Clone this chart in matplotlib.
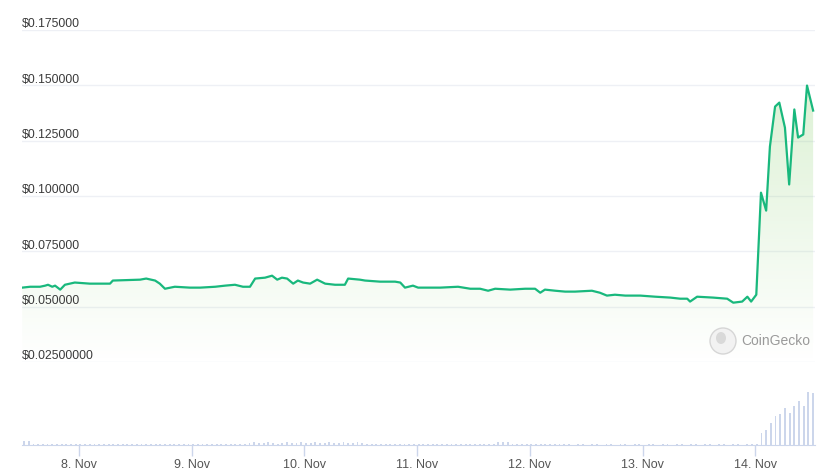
import numpy as np
import matplotlib
matplotlib.use("Agg")
import matplotlib.pyplot as plt
import matplotlib.patches as mpatches
from matplotlib.colors import LinearSegmentedColormap

plt.rcParams['font.family'] = ['Liberation Sans', 'DejaVu Sans']

# prijs: uren sinds 8 Nov 00:00, waarde in USD
uren = [-12.1, -10.4, -8.3, -7.2, -6.6, -5.7, -5.1, -4.0, -3.0, -0.9,
        2.3, 6.6, 7.2, 13.0, 14.3, 16.2, 17.2, 18.3, 20.4, 23.6,
        25.8, 29.0, 31.1, 33.2, 34.9, 36.4, 37.5, 39.6, 41.1, 42.2,
        43.2, 44.3, 45.6, 46.6, 47.7, 49.2, 50.7, 52.4, 54.5, 56.6,
        57.3, 59.8, 60.9, 64.1, 67.3, 68.4, 69.4, 71.1, 72.2, 73.7,
        76.9, 80.7, 83.3, 85.4, 87.1, 88.6, 91.8, 95.0, 97.1, 98.2,
        99.2, 101.4, 103.5, 105.6, 109.2, 110.9, 112.4, 114.1, 116.3, 119.5,
        122.7, 125.9, 128.0, 129.5, 130.1, 131.6, 135.0, 138.0, 139.3, 141.2,
        142.3, 143.1, 144.2, 145.2, 146.3, 147.1, 148.2, 149.1, 150.3, 151.2,
        152.3, 153.1, 154.2, 155.0, 156.3]
prijs = [0.0586, 0.0590, 0.0590, 0.0595, 0.0599, 0.0590, 0.0595, 0.0577, 0.0599, 0.0609,
         0.0604, 0.0604, 0.0618, 0.0622, 0.0627, 0.0618, 0.0604, 0.0581, 0.0590, 0.0586,
         0.0586, 0.0590, 0.0595, 0.0599, 0.0590, 0.0590, 0.0627, 0.0631, 0.0640, 0.0622,
         0.0631, 0.0627, 0.0604, 0.0618, 0.0609, 0.0604, 0.0622, 0.0604, 0.0599, 0.0599,
         0.0627, 0.0622, 0.0618, 0.0613, 0.0613, 0.0609, 0.0586, 0.0595, 0.0586, 0.0586,
         0.0586, 0.0590, 0.0581, 0.0581, 0.0572, 0.0581, 0.0577, 0.0581, 0.0581, 0.0563,
         0.0577, 0.0572, 0.0568, 0.0568, 0.0572, 0.0563, 0.0550, 0.0554, 0.0550, 0.0550,
         0.0545, 0.0541, 0.0536, 0.0536, 0.0523, 0.0545, 0.0541, 0.0536, 0.0518, 0.0523,
         0.0545, 0.0523, 0.0554, 0.1015, 0.0934, 0.1223, 0.1404, 0.1422, 0.1309, 0.1052,
         0.1391, 0.1264, 0.1278, 0.1499, 0.1386]

# volume per uur (duizend USD), uur -12 t/m 156
volume = [
    # 7 Nov 12:00 - 23:00
    4.0, 3.8, 1.2, 1.1, 1.2, 1.3, 1.2, 1.1, 1.2, 1.2, 1.3, 1.2,
    # 8 Nov
    1.2, 1.3, 1.2, 1.1, 1.2, 1.2, 1.3, 1.2, 1.2, 1.1, 1.2, 1.3,
    1.2, 1.2, 1.1, 1.2, 1.3, 1.2, 1.2, 1.2, 1.1, 1.2, 1.3, 1.2,
    # 9 Nov
    1.2, 1.3, 1.2, 1.1, 1.2, 1.2, 1.3, 1.2, 1.2, 1.1, 1.2, 1.3,
    2.4, 2.6, 2.5, 2.3, 2.6, 2.5, 1.2, 2.4, 2.6, 2.5, 2.4, 2.6,
    # 10 Nov
    2.5, 2.4, 2.6, 2.5, 2.3, 2.6, 2.5, 2.4, 2.6, 2.5, 2.4, 2.6,
    2.5, 1.3, 1.2, 1.1, 1.2, 1.3, 1.2, 1.2, 1.1, 1.2, 1.3, 1.2,
    # 11 Nov
    1.2, 1.2, 1.1, 1.2, 1.3, 1.2, 1.2, 1.1, 1.2, 1.3, 1.2, 1.2,
    1.2, 1.1, 1.2, 1.3, 1.2, 3.0, 3.2, 3.0, 1.2, 1.3, 1.2, 1.1,
    # 12 Nov
    1.2, 1.2, 1.3, 1.2, 1.1, 1.2, 1.2, 0.6, 0.6, 0.5, 0.6, 0.6,
    0.5, 0.6, 0.6, 0.5, 0.6, 0.6, 0.5, 0.6, 0.6, 0.5, 0.6, 0.6,
    # 13 Nov
    0.5, 0.6, 0.6, 0.5, 0.6, 0.6, 0.5, 0.6, 0.6, 0.5, 0.6, 0.6,
    0.5, 0.6, 0.6, 0.5, 0.6, 0.6, 0.5, 0.6, 0.6, 0.5, 0.6, 0.6,
    # 14 Nov
    0.6, 12, 15, 22, 29, 31, 37, 32, 39, 44, 39, 53, 52]
volume_uren = np.arange(-12, -12 + len(volume)) + 0.3

ytick_waarden = [0.025, 0.05, 0.075, 0.1, 0.125, 0.15, 0.175]
ytick_labels = ["$0.02500000", "$0.050000", "$0.075000", "$0.100000",
                "$0.125000", "$0.150000", "$0.175000"]
xtick_waarden = [0, 24, 48, 72, 96, 120, 144]
xtick_labels = ["8. Nov", "9. Nov", "10. Nov", "11. Nov", "12. Nov", "13. Nov", "14. Nov"]

W, H = 824, 475
fig = plt.figure(figsize=(W / 100, H / 100), dpi=100)
xlim = (-12.14, 156.7)
links, rechts = 22 / W, 793 / W

# prijsgrafiek
ax = fig.add_axes([links, 1 - 362 / H, rechts, 332 / H])
ax.set_xlim(*xlim)
ax.set_ylim(0.025, 0.175)
for s in ax.spines.values():
    s.set_visible(False)
ax.set_xticks([])
ax.set_yticks([])
for v, lab in zip(ytick_waarden, ytick_labels):
    ax.axhline(v, color="#eef0f5", lw=1, zorder=0)
    ax.annotate(lab, (0, v), xycoords=("axes fraction", "data"), xytext=(0, 2),
                textcoords="offset points", ha="left", va="baseline",
                fontsize=8.8, color="#3a3a3a")

# gradient onder de lijn
vul = ax.fill_between(uren, prijs, 0.025, color="none", lw=0)
cmap = LinearSegmentedColormap.from_list(
    "g", [(0.55, 0.82, 0.45, 0.0), (0.55, 0.82, 0.45, 0.30)])
grad = np.linspace(0, 1, 256).reshape(-1, 1)
im = ax.imshow(grad, cmap=cmap, aspect="auto", origin="lower",
               extent=[xlim[0], xlim[1], 0.025, 0.15], zorder=1)
pad = vul.get_paths()[0]
im.set_clip_path(pad, transform=ax.transData)
ax.plot(uren, prijs, color="#19b87d", lw=1.6, zorder=3, solid_joinstyle="round")

# volume
axv = fig.add_axes([links, 1 - 445 / H, rechts, 65 / H])
axv.set_xlim(*xlim)
axv.set_ylim(0, max(volume) * 65 / 53)
axv.bar(volume_uren, volume, width=0.4, color="#ccd6eb", lw=0)
for k in ["top", "left", "right"]:
    axv.spines[k].set_visible(False)
axv.spines["bottom"].set_color("#ccd6eb")
axv.set_yticks([])
axv.set_xticks(xtick_waarden)
axv.set_xticklabels(xtick_labels, fontsize=9, color="#555555")
axv.tick_params(axis="x", length=8, width=1, color="#ccd6eb", pad=2)

# CoinGecko watermerk
fig.add_artist(mpatches.Ellipse((723 / W, 1 - 341 / H), 26 / W, 26 / H,
                                transform=fig.transFigure, facecolor="#f2f2f2",
                                edgecolor="#d6d6d6", lw=1))
fig.add_artist(mpatches.Ellipse((721 / W, 1 - 338 / H), 10 / W, 12 / H,
                                transform=fig.transFigure, facecolor="#d9d9d9",
                                edgecolor="none"))
fig.text(741 / W, 1 - 341 / H, "CoinGecko", fontsize=10, color="#9a9a9a",
         ha="left", va="center")

fig.savefig("out.png", dpi=100)
